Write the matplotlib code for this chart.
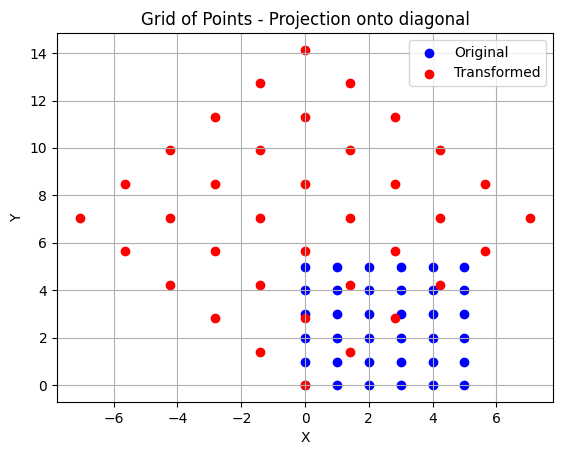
import matplotlib
matplotlib.use('Agg')
import matplotlib.pyplot as plt

# original grid points
orig_x = [0, 0, 0, 0, 0, 0,
          1, 1, 1, 1, 1, 1,
          2, 2, 2, 2, 2, 2,
          3, 3, 3, 3, 3, 3,
          4, 4, 4, 4, 4, 4,
          5, 5, 5, 5, 5, 5]
orig_y = [0, 1, 2, 3, 4, 5] * 6

# transformed points
trans_x = [0, -1.41, -2.83, -4.24, -5.66, -7.07,
           1.41, 0, -1.41, -2.83, -4.24, -5.66,
           2.83, 1.41, 0, -1.41, -2.83, -4.24,
           4.24, 2.83, 1.41, 0, -1.41, -2.83,
           5.66, 4.24, 2.83, 1.41, 0, -1.41,
           7.07, 5.66, 4.24, 2.83, 1.41, 0]
trans_y = [0, 1.41, 2.83, 4.24, 5.66, 7.07,
           1.41, 2.83, 4.24, 5.66, 7.07, 8.49,
           2.83, 4.24, 5.66, 7.07, 8.49, 9.90,
           4.24, 5.66, 7.07, 8.49, 9.90, 11.31,
           5.66, 7.07, 8.49, 9.90, 11.31, 12.73,
           7.07, 8.49, 9.90, 11.31, 12.73, 14.14]

fig = plt.figure(figsize=(5.62, 4.55), dpi=100)
ax = fig.add_axes([57/562, 1-402/455, (553-57)/562, (402-33)/455])
ax.scatter(orig_x, orig_y, color='blue', label='Original')
ax.scatter(trans_x, trans_y, color='red', label='Transformed')
ax.set_xlabel('X')
ax.set_ylabel('Y')
ax.set_title('Grid of Points - Projection onto diagonal')
ax.legend()
ax.grid(True)
fig.savefig('out.png')
